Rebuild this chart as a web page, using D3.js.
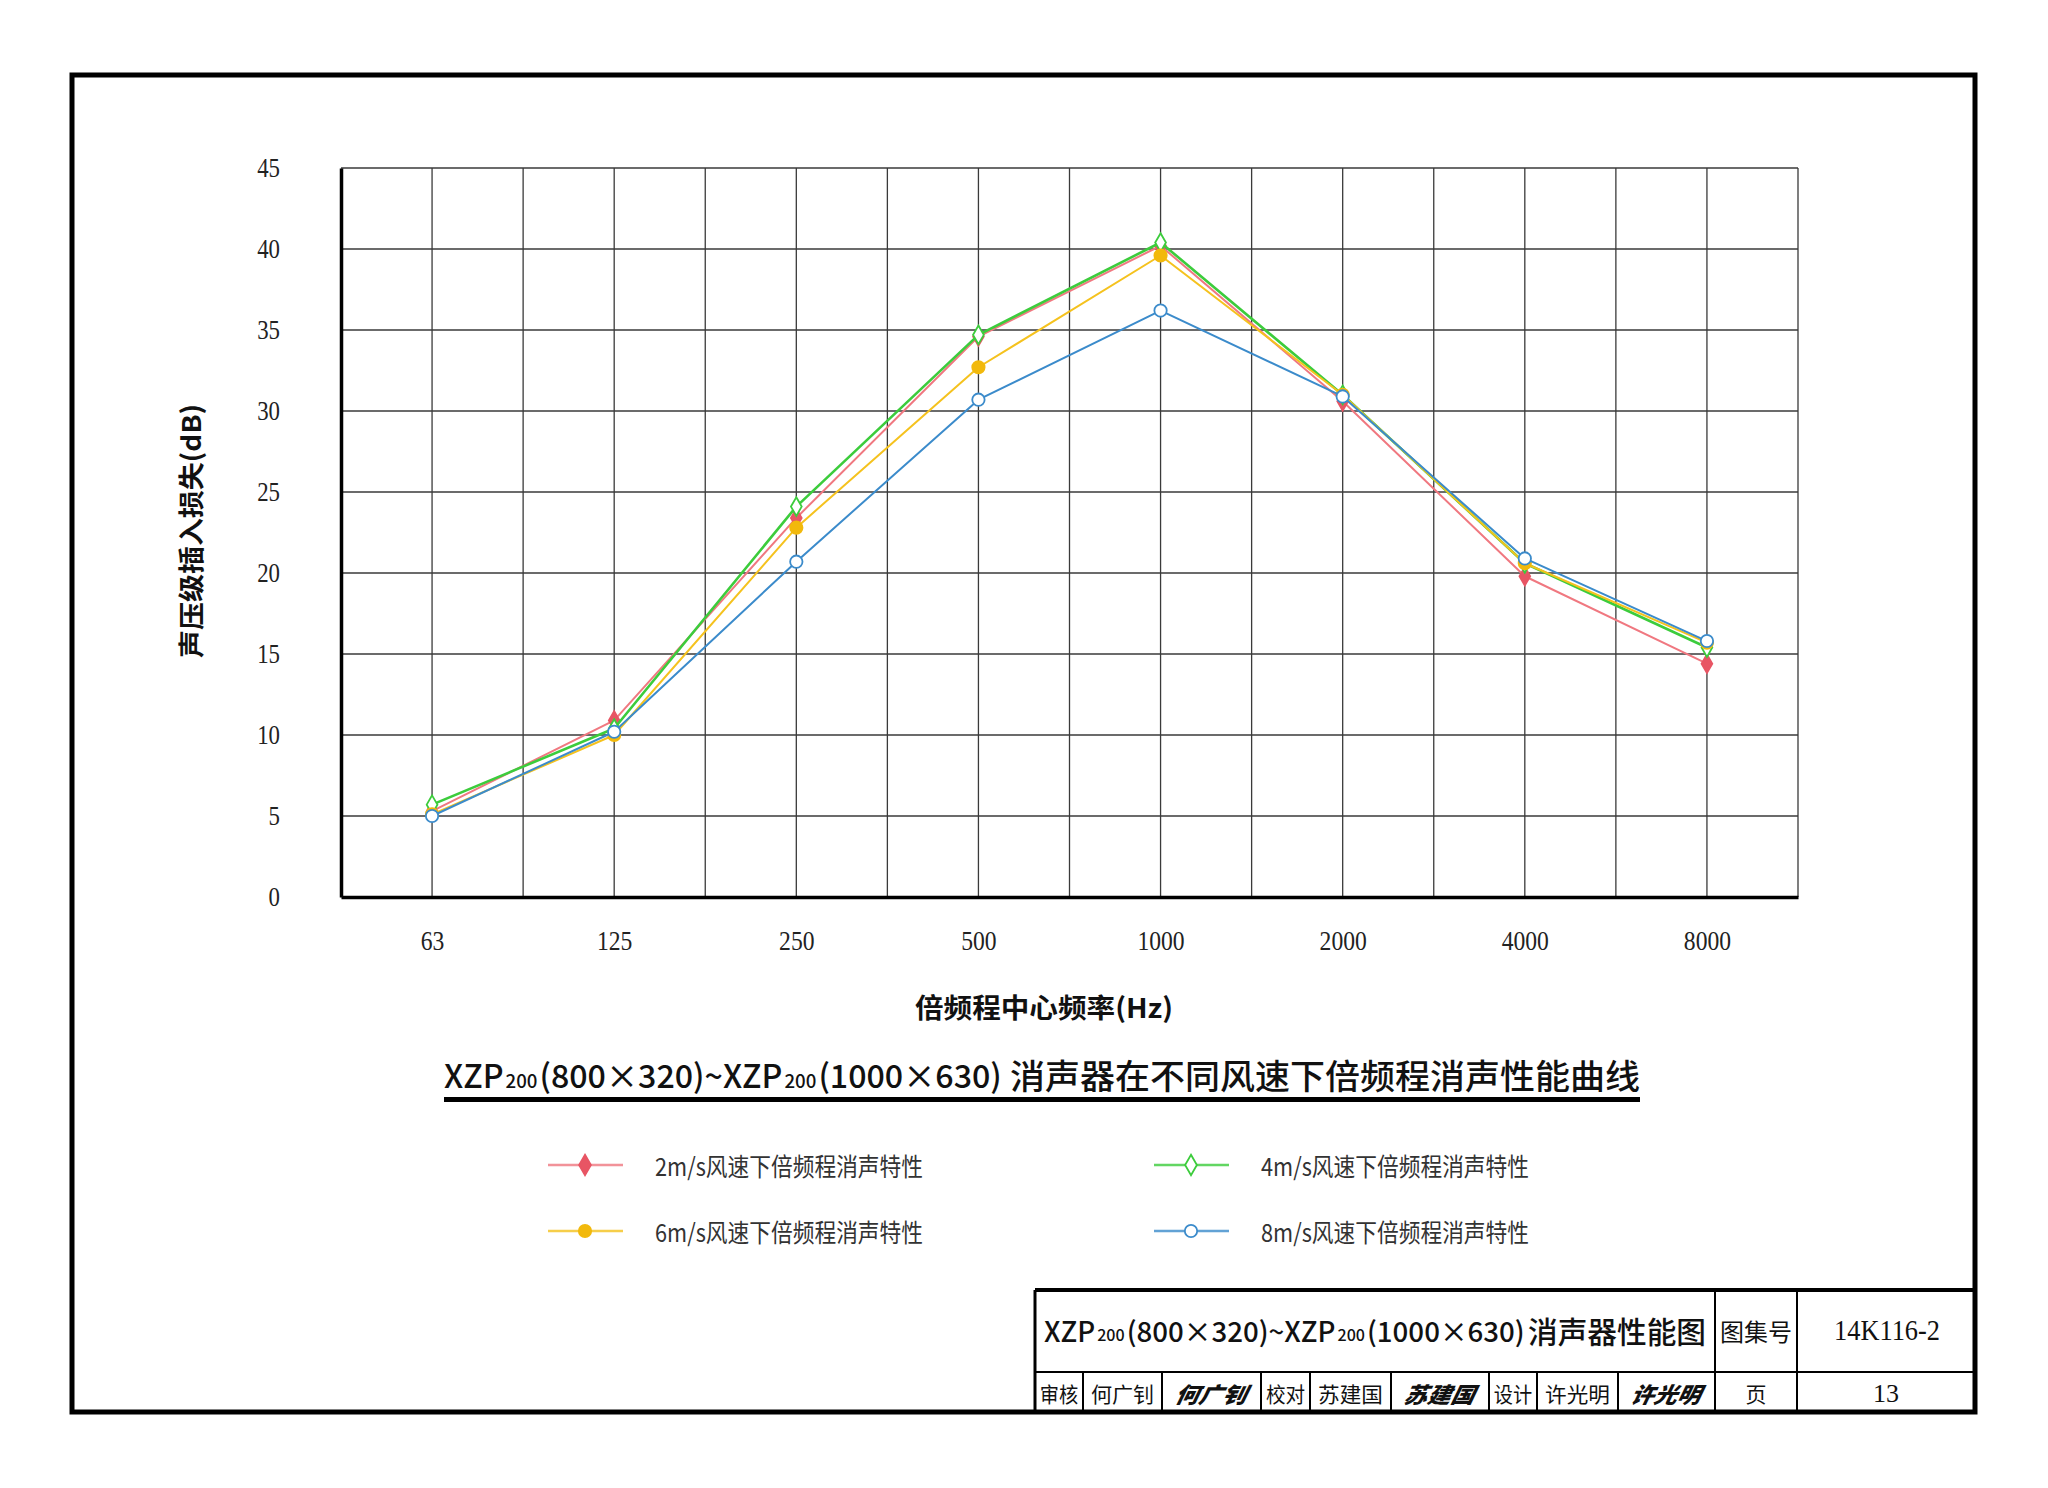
<!DOCTYPE html>
<html>
<head>
<meta charset="utf-8">
<script src="https://cdn.jsdelivr.net/npm/d3@7/dist/d3.min.js"></script>
<style>
  html, body { margin: 0; padding: 0; background: #fff; }
  svg { display: block; }
  .cjk { font-family: "Noto Sans CJK SC", "Noto Sans", sans-serif; }
  .num { font-family: "Liberation Serif", "DejaVu Serif", serif; }
</style>
</head>
<body>
<svg id="chart" width="2048" height="1488"></svg>
<script>
// ---------- data ----------
const categories = ["63", "125", "250", "500", "1000", "2000", "4000", "8000"];
const yTicks = [0, 5, 10, 15, 20, 25, 30, 35, 40, 45];
const s2 = [5.3, 10.9, 23.4, 34.6, 40.2, 30.6, 19.8, 14.4];
const s4 = [5.7, 10.4, 24.1, 34.7, 40.4, 31.0, 20.6, 15.4];
const s6 = [5.1, 10.0, 22.8, 32.7, 39.6, 31.0, 20.6, 15.7];
const s8 = [5.0, 10.2, 20.7, 30.7, 36.2, 30.9, 20.9, 15.8];
const seriesNames = ["2m/s风速下倍频程消声特性", "4m/s风速下倍频程消声特性", "6m/s风速下倍频程消声特性", "8m/s风速下倍频程消声特性"];
const modelParts = [["XZP", false], ["200", true], ["(800×320)~XZP", false], ["200", true], ["(1000×630)", false]];
const chartTitleCJK = "消声器在不同风速下倍频程消声性能曲线";
const blockTitleCJK = "消声器性能图";
const xTitle = "倍频程中心频率(Hz)";
const yTitle = "声压级插入损失(dB)";
const blockCells = ["审核", "何广钊", "何广钊", "校对", "苏建国", "苏建国", "设计", "许光明", "许光明"];
const atlasLabel = "图集号", atlasNo = "14K116-2", pageLabel = "页", pageNo = "13";

// ---------- setup ----------
const svg = d3.select("#chart");
svg.append("rect").attr("width", 2048).attr("height", 1488).attr("fill", "#fff");

const L = 341, R = 1798, T = 168, B = 897;
const xBand = d3.scaleBand().domain(categories).range([L, R]);
const x = d3.scalePoint().domain(categories).range([L, R]).padding(0.5);
const y = d3.scaleLinear().domain([0, 45]).range([B, T]);

// outer frame
svg.append("rect").attr("x", 72).attr("y", 75).attr("width", 1975 - 72).attr("height", 1412 - 75)
  .attr("fill", "none").attr("stroke", "#000").attr("stroke-width", 5);

// grid
const grid = svg.append("g");
const vx = [];
categories.forEach(c => { vx.push(xBand(c)); vx.push(xBand(c) + xBand.bandwidth() / 2); });
vx.push(R);
grid.selectAll("line.v").data(vx.slice(1)).join("line")
  .attr("x1", d => d).attr("x2", d => d).attr("y1", T).attr("y2", B)
  .attr("stroke", "#3a3a3a").attr("stroke-width", 1.3);
grid.selectAll("line.h").data(yTicks.slice(1)).join("line")
  .attr("x1", L).attr("x2", R).attr("y1", d => y(d)).attr("y2", d => y(d))
  .attr("stroke", "#3a3a3a").attr("stroke-width", 1.3);

// axes
const yAxis = svg.append("g").attr("transform", `translate(${L},0)`)
  .call(d3.axisLeft(y).tickValues(yTicks).tickSize(0).tickPadding(61));
yAxis.select(".domain").attr("stroke", "#000").attr("stroke-width", 3.5);
yAxis.selectAll("text").attr("class", "num").attr("font-size", 27).attr("fill", "#222")
  .attr("textLength", d => String(d).length * 11.4).attr("lengthAdjust", "spacingAndGlyphs");

const xAxis = svg.append("g").attr("transform", `translate(0,${B})`)
  .call(d3.axisBottom(x).tickSize(0).tickPadding(34));
xAxis.select(".domain").attr("stroke", "#000").attr("stroke-width", 3.5);
xAxis.selectAll("text").attr("class", "num").attr("font-size", 27).attr("fill", "#222")
  .attr("textLength", d => String(d).length * 11.8).attr("lengthAdjust", "spacingAndGlyphs");

// axis titles
svg.append("text").attr("class", "cjk").attr("transform", "translate(189,531) rotate(-90)")
  .attr("text-anchor", "middle").attr("dominant-baseline", "central")
  .attr("font-size", 26).attr("font-weight", 600).attr("fill", "#111")
  .attr("textLength", 254).attr("lengthAdjust", "spacingAndGlyphs").text(yTitle);
svg.append("text").attr("class", "cjk").attr("x", 1044).attr("y", 1006)
  .attr("text-anchor", "middle").attr("dominant-baseline", "central")
  .attr("font-size", 27).attr("font-weight", 600).attr("fill", "#111")
  .attr("textLength", 258).attr("lengthAdjust", "spacingAndGlyphs").text(xTitle);

// ---------- series ----------
const series = [
  { v: s2, line: "#f07880", mark: "#e85564", shape: d3.symbolDiamond, fill: true, w: 2 },
  { v: s4, line: "#3ccc3c", mark: "#3ccc3c", shape: d3.symbolDiamond, fill: false, w: 2.6 },
  { v: s6, line: "#f5c21e", mark: "#f2b90c", shape: d3.symbolCircle, fill: true, w: 2 },
  { v: s8, line: "#3b8bcb", mark: "#3b8bcb", shape: d3.symbolCircle, fill: false, w: 2 }
];
const lineGen = d3.line().x((d, i) => x(categories[i])).y(d => y(d));
series.forEach(s => {
  const g = svg.append("g");
  g.append("path").attr("d", lineGen(s.v)).attr("fill", "none")
    .attr("stroke", s.line).attr("stroke-width", s.w).attr("stroke-linejoin", "round");
  const sym = d3.symbol().type(s.shape).size(s.shape === d3.symbolDiamond ? 100 : 120);
  g.selectAll("path.m").data(s.v).join("path")
    .attr("transform", (d, i) => `translate(${x(categories[i])},${y(d)})`)
    .attr("d", sym)
    .attr("fill", s.fill ? s.mark : "#fff")
    .attr("stroke", s.mark).attr("stroke-width", 1.8);
});

// ---------- model-name + CJK titles ----------
function modelText(parent, x0, yc, size, width) {
  const gap = 2;
  const items = modelParts.map(([t, sub]) => {
    const el = parent.append("text").attr("class", "cjk").attr("font-size", sub ? size * 0.58 : size)
      .attr("font-weight", 500).attr("fill", "#111").attr("dominant-baseline", "central").text(t);
    return { el, sub, w: el.node().getComputedTextLength() };
  });
  const total = d3.sum(items, d => d.w);
  const k = (width - gap * (items.length - 1)) / total;
  const fs = size * k;
  let cx = x0;
  items.forEach(it => {
    it.el.attr("font-size", it.sub ? fs * 0.58 : fs)
      .attr("x", cx).attr("y", it.sub ? yc + fs * 0.16 : yc);
    cx += it.el.node().getComputedTextLength() + gap;
  });
}
function cjkText(parent, str, x0, yc, size, width) {
  parent.append("text").attr("class", "cjk").attr("x", x0).attr("y", yc)
    .attr("dominant-baseline", "central").attr("font-size", size).attr("font-weight", 500)
    .attr("fill", "#111").attr("textLength", width).attr("lengthAdjust", "spacingAndGlyphs").text(str);
}
modelText(svg, 444, 1074, 34, 558);
cjkText(svg, chartTitleCJK, 1010, 1074, 34, 630);
svg.append("rect").attr("x", 444).attr("y", 1097).attr("width", 1640 - 444).attr("height", 5).attr("fill", "#000");

// ---------- legend ----------
const legPos = [[548, 1165], [1154, 1165], [548, 1231], [1154, 1231]];
series.forEach((s, i) => {
  const [lx, ly] = legPos[i];
  const g = svg.append("g");
  g.append("line").attr("x1", lx).attr("x2", lx + 75).attr("y1", ly).attr("y2", ly)
    .attr("stroke", s.line).attr("stroke-width", 2.5).attr("opacity", 0.8);
  g.append("path").attr("transform", `translate(${lx + 37},${ly})`)
    .attr("d", d3.symbol().type(s.shape).size(120))
    .attr("fill", s.fill ? s.mark : "#fff").attr("stroke", s.mark).attr("stroke-width", 1.8);
  g.append("text").attr("class", "cjk").attr("x", lx + 107).attr("y", ly)
    .attr("dominant-baseline", "central").attr("font-size", 25).attr("fill", "#333")
    .attr("textLength", 268).attr("lengthAdjust", "spacingAndGlyphs").text(seriesNames[i]);
});

// ---------- title block ----------
const tb = svg.append("g");
const bx0 = 1035, bx1 = 1975, by0 = 1290, bym = 1372, by1 = 1412;
tb.append("line").attr("x1", bx0).attr("x2", bx1).attr("y1", by0).attr("y2", by0).attr("stroke", "#000").attr("stroke-width", 4);
tb.append("line").attr("x1", bx0).attr("x2", bx0).attr("y1", by0).attr("y2", by1).attr("stroke", "#000").attr("stroke-width", 3);
tb.append("line").attr("x1", bx0).attr("x2", bx1).attr("y1", bym).attr("y2", bym).attr("stroke", "#000").attr("stroke-width", 2);
[1715, 1797].forEach(v => tb.append("line").attr("x1", v).attr("x2", v).attr("y1", by0).attr("y2", by1).attr("stroke", "#000").attr("stroke-width", 2));
const cellEdges = [bx0, 1083, 1162, 1261, 1310, 1391, 1489, 1537, 1618, 1715];
cellEdges.slice(1, -1).forEach(v => tb.append("line").attr("x1", v).attr("x2", v).attr("y1", bym).attr("y2", by1).attr("stroke", "#000").attr("stroke-width", 2));
modelText(tb, 1044, 1330, 30, 481);
cjkText(tb, blockTitleCJK, 1528, 1330, 30, 178);
const cy = (bym + by1) / 2 + 1;
blockCells.forEach((c, i) => {
  const cx = (cellEdges[i] + cellEdges[i + 1]) / 2;
  const isSig = (i % 3 === 2);
  const t = tb.append("text").attr("class", "cjk").attr("x", cx).attr("y", cy)
    .attr("text-anchor", "middle").attr("dominant-baseline", "central").attr("fill", "#111").text(c);
  if (isSig) {
    t.attr("font-size", 22).attr("font-weight", 900).attr("font-style", "italic")
      .attr("transform", `skewX(-12) translate(${cy * 0.2126},0)`)
      .attr("textLength", (cellEdges[i + 1] - cellEdges[i]) * 0.72).attr("lengthAdjust", "spacingAndGlyphs");
  } else {
    t.attr("font-size", 21).attr("textLength", (cellEdges[i + 1] - cellEdges[i]) * 0.8).attr("lengthAdjust", "spacingAndGlyphs");
  }
});
tb.append("text").attr("class", "cjk").attr("x", 1756).attr("y", 1330).attr("text-anchor", "middle")
  .attr("dominant-baseline", "central").attr("font-size", 24).attr("fill", "#111").text(atlasLabel);
tb.append("text").attr("class", "num").attr("x", 1887).attr("y", 1330).attr("text-anchor", "middle")
  .attr("dominant-baseline", "central").attr("font-size", 29).attr("fill", "#111")
  .attr("textLength", 106).attr("lengthAdjust", "spacingAndGlyphs").text(atlasNo);
tb.append("text").attr("class", "cjk").attr("x", 1756).attr("y", cy).attr("text-anchor", "middle")
  .attr("dominant-baseline", "central").attr("font-size", 21).attr("fill", "#111").text(pageLabel);
tb.append("text").attr("class", "num").attr("x", 1886).attr("y", cy).attr("text-anchor", "middle")
  .attr("dominant-baseline", "central").attr("font-size", 26).attr("fill", "#111")
  .attr("textLength", 26).attr("lengthAdjust", "spacingAndGlyphs").text(pageNo);
</script>
</body>
</html>
